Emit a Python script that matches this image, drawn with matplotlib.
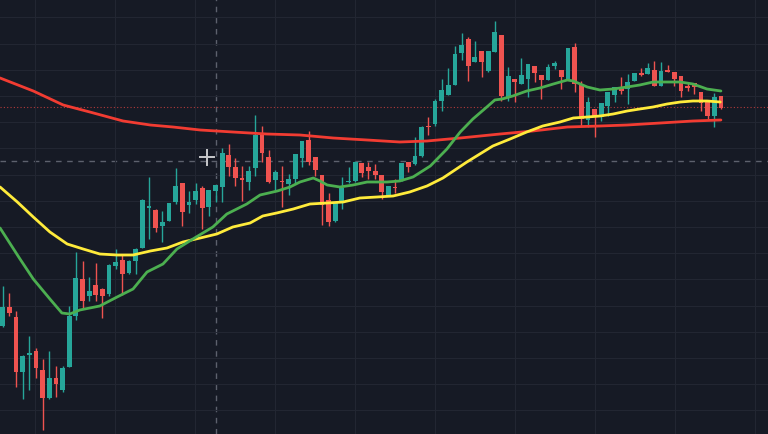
import matplotlib
matplotlib.use("Agg")
import matplotlib.pyplot as plt
import numpy as np

# candle data (arbitrary price units)
opens = [108, 127, 117, 62, 79, 83, 64, 36, 56, 44, 67, 118, 155, 138, 149, 145, 140, 168, 174, 161,
         173, 186, 226, 224, 208, 213, 232, 251, 229, 234, 246, 227, 243, 247, 279, 267, 256, 252, 266, 299,
         277, 254, 253, 250, 255, 276, 294, 277, 259, 234, 213, 231, 252, 253, 271, 267, 263, 259, 239, 247,
         254, 272, 270, 278, 308, 310, 333, 339, 349, 381, 395, 372, 383, 363, 382, 399, 337, 355, 350, 355,
         368, 359, 354, 368, 364, 354, 387, 349, 314, 325, 317, 328, 339, 347, 345, 353, 361, 360, 364, 348,
         364, 362, 358, 348, 351, 342, 332, 318, 338]
highs = [148, 141, 123, 79, 98, 86, 75, 83, 68, 68, 128, 182, 173, 157, 171, 146, 170, 185, 180, 174,
         186, 235, 257, 225, 223, 231, 266, 251, 243, 251, 248, 244, 249, 286, 290, 276, 268, 268, 319, 308,
         284, 264, 268, 260, 280, 293, 303, 277, 259, 241, 232, 257, 267, 273, 271, 272, 270, 259, 248, 255,
         271, 272, 297, 308, 317, 335, 355, 366, 388, 401, 397, 393, 383, 383, 413, 399, 367, 355, 376, 370,
         368, 359, 370, 373, 364, 386, 391, 353, 337, 325, 331, 342, 347, 357, 360, 361, 366, 371, 373, 372,
         369, 362, 358, 352, 351, 342, 332, 341, 338]
lows = [107, 118, 47, 35, 44, 56, 4, 35, 37, 42, 67, 114, 126, 133, 133, 116, 138, 165, 139, 160,
        160, 186, 195, 202, 192, 213, 230, 208, 221, 230, 205, 218, 232, 232, 258, 248, 233, 244, 258, 272,
        251, 243, 227, 239, 250, 267, 269, 258, 209, 208, 212, 225, 251, 252, 257, 255, 255, 235, 238, 241,
        253, 262, 269, 277, 299, 308, 323, 339, 349, 374, 353, 372, 357, 362, 382, 333, 333, 332, 350, 337,
        352, 335, 354, 365, 345, 354, 342, 308, 307, 297, 313, 318, 332, 340, 330, 353, 358, 360, 348, 348,
        362, 348, 337, 343, 340, 323, 315, 307, 325]
closes = [127, 121, 62, 78, 81, 66, 36, 56, 50, 66, 118, 156, 133, 143, 139, 138, 169, 172, 160, 173,
          185, 234, 228, 206, 212, 231, 248, 222, 232, 243, 226, 244, 249, 281, 267, 256, 254, 263, 299, 281,
          252, 262, 252, 255, 280, 293, 272, 264, 229, 212, 232, 246, 253, 272, 261, 263, 259, 242, 248, 246,
          271, 267, 278, 307, 307, 333, 344, 349, 380, 389, 368, 377, 372, 383, 402, 338, 358, 352, 359, 370,
          361, 354, 367, 371, 357, 386, 350, 315, 332, 318, 331, 342, 347, 343, 352, 361, 359, 366, 348, 363,
          362, 355, 343, 346, 347, 331, 318, 337, 326]

# moving averages: (bar position, value)
ma_fast_x = [-0.4, 2.6, 4.6, 7.1, 8.9, 10.1, 11.6, 14.6, 17.2, 19.6, 21.7, 24.1, 26.2, 28.6, 31.6, 33.7,
             36.7, 38.7, 41.3, 43.2, 44.7, 46.7, 47.7, 48.8, 50.7, 52.7, 54.8, 57.8, 59.7, 61.7, 64.3, 66.8,
             68.8, 70.7, 72.8, 74.0, 75.1, 76.7, 78.8, 80.8, 82.8, 84.9, 85.8, 87.9, 89.8, 91.8, 93.9, 95.8,
             97.8, 99.9, 101.9, 103.8, 105.9, 108.0]
ma_fast = [206, 175, 155, 135, 121, 120, 124, 128, 137, 145, 162, 170, 185, 195, 207, 220,
           230, 239, 243, 247, 252, 256, 253, 249, 247, 249, 252, 252, 253, 257, 268, 285,
           302, 315, 327, 334, 335, 338, 343, 346, 350, 354, 353, 347, 344, 345, 347, 349,
           352, 352, 352, 350, 345, 343]

ma_mid_x = [-0.4, 2.2, 4.6, 7.1, 9.7, 12.1, 14.6, 17.2, 19.6, 22.2, 24.7, 27.1, 29.7, 32.2, 34.6, 37.2,
            39.1, 41.2, 43.7, 46.2, 48.8, 51.2, 53.7, 56.3, 58.7, 61.2, 63.8, 66.2, 69.8, 73.7, 76.3, 78.8,
            81.2, 83.8, 85.8, 87.9, 89.8, 91.8, 93.9, 95.8, 97.8, 99.9, 101.9, 103.8, 105.9, 107.9]
ma_mid = [247, 232, 217, 202, 190, 185, 180, 179, 179, 183, 186, 192, 196, 200, 207, 211,
          218, 221, 225, 230, 231, 232, 236, 237, 238, 242, 248, 256, 272, 288, 295, 302,
          308, 312, 316, 317, 318, 320, 323, 325, 327, 330, 332, 333, 333, 332]

ma_slow_x = [-0.4, 4.6, 9.1, 13.1, 18.1, 22.2, 25.6, 29.7, 34.6, 39.7, 44.7, 49.7, 54.8, 59.7, 63.8, 68.8,
             74.8, 79.7, 84.9, 89.8, 93.9, 98.9, 103.8, 108.0]
ma_slow = [356, 343, 329, 322, 313, 309, 307, 304, 302, 300, 299, 296, 294, 292, 293, 296,
           300, 303, 307, 308, 309, 311, 313, 314]

last_price = 327
cross_bar, cross_price = 32, 273
cursor_bar, cursor_price = 30.7, 277

BG = "#161a25"
GRID = "#222632"
UP = "#26a69a"
DOWN = "#ef5350"

fig = plt.figure(figsize=(7.68, 4.35), dpi=100, facecolor=BG)
ax = fig.add_axes([0, 0, 1, 1])
ax.set_facecolor(BG)

o = np.array(opens)
h = np.array(highs)
l = np.array(lows)
c = np.array(closes)
x = np.arange(len(o))
colors = np.where(c >= o, UP, DOWN)

# grid
ax.set_xticks(np.arange(4.86, 116, 12.03))
ax.set_yticks(np.arange(-2.5, 436, 26.2))
ax.grid(True, color=GRID, linewidth=0.8)
ax.tick_params(length=0, labelbottom=False, labelleft=False)
for s in ax.spines.values():
    s.set_visible(False)

# crosshair and last price line
ax.axhline(cross_price, color="#5d616d", linewidth=1, linestyle=(0, (4, 4)), zorder=1)
ax.axvline(cross_bar, color="#5d616d", linewidth=1, linestyle=(0, (4, 4)), zorder=1)
ax.axhline(last_price, color="#b33a3a", linewidth=0.8, linestyle=(0, (1, 2)), zorder=1)

# candles
ax.vlines(x, l, h, colors=colors, linewidth=1, zorder=2)
body = np.maximum(np.abs(c - o), 1)
ax.bar(x, body, bottom=np.minimum(o, c), width=0.72, color=colors, linewidth=0, zorder=3)

# moving averages
ax.plot(ma_slow_x, ma_slow, color="#f23c32", linewidth=2, zorder=4, solid_capstyle="round")
ax.plot(ma_mid_x, ma_mid, color="#ffeb3b", linewidth=2, zorder=4, solid_capstyle="round")
ax.plot(ma_fast_x, ma_fast, color="#4caf50", linewidth=2, zorder=4, solid_capstyle="round")

# mouse cursor
ax.plot([cursor_bar - 1.1, cursor_bar + 1.1], [cursor_price, cursor_price], color="#c8c9cc", linewidth=1.4, zorder=6)
ax.plot([cursor_bar, cursor_bar], [cursor_price - 7.5, cursor_price + 7.5], color="#c8c9cc", linewidth=1.4, zorder=6)

ax.set_xlim(-0.406, 115.08)
ax.set_ylim(0, 435)

fig.savefig("out.png", dpi=100, facecolor=BG)
